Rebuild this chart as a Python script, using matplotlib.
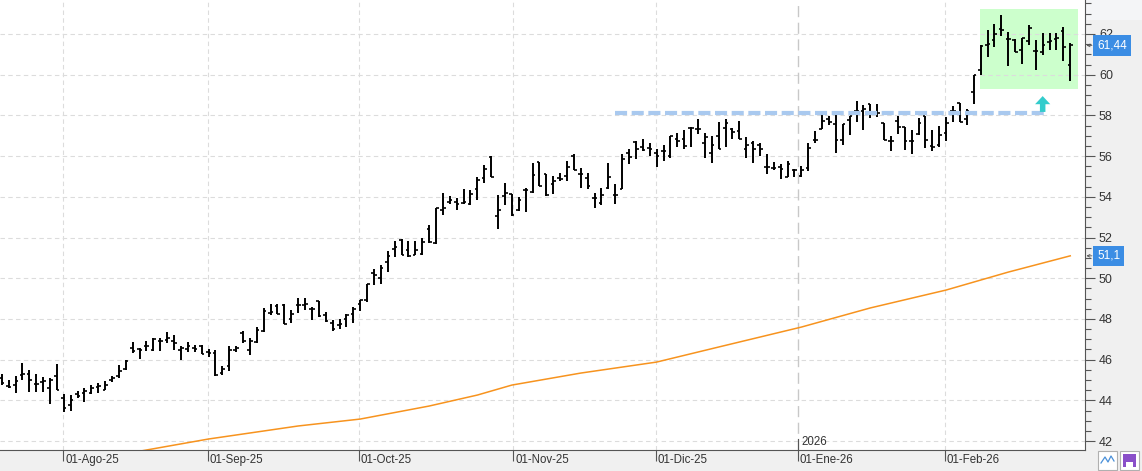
import numpy as np
import matplotlib
matplotlib.use('Agg')
import matplotlib.pyplot as plt
from matplotlib.patches import Rectangle, FancyArrow
from matplotlib.ticker import MultipleLocator

# daily bars (open, high, low, close)
opens = [45.08, 44.72, 44.77, 45.26, 45.30, 44.82, 44.92, 44.61, 45.18, 44.11,
         43.79, 44.30, 44.36, 44.36, 44.66, 44.52, 45.02, 45.18, 45.54, 46.57,
         46.52, 46.69, 46.49, 46.90, 46.95, 46.90, 46.49, 46.52, 46.57, 46.66,
         46.36, 46.33, 45.34, 45.67, 46.49, 47.31, 46.49, 46.85, 47.39, 48.30,
         48.64, 48.69, 48.02, 48.67, 48.67, 48.51, 48.89, 48.18, 47.80, 47.69,
         48.02, 48.26, 48.75, 48.92, 50.26, 50.03, 50.80, 51.46, 51.87, 51.38,
         51.13, 51.21, 52.44, 51.74, 53.34, 53.75, 53.75, 53.70, 53.64, 54.36,
         54.90, 55.97, 53.05, 54.03, 54.16, 53.34, 54.33, 54.25, 55.69, 55.10,
         54.61, 54.93, 55.02, 56.00, 55.10, 54.93, 53.95, 53.70, 54.44, 54.07,
         54.36, 56.16, 56.69, 56.46, 56.41, 56.16, 56.25, 56.00, 56.82, 56.82,
         57.39, 57.34, 56.66, 56.16, 56.98, 57.39, 57.31, 57.23, 56.33, 56.62,
         56.57, 55.48, 55.43, 55.48, 54.98, 55.34, 55.02, 55.41, 56.80, 57.34,
         57.82, 57.57, 56.80, 57.79, 58.20, 58.23, 58.56, 58.16, 57.62, 56.75,
         57.74, 57.43, 56.72, 57.08, 57.98, 56.48, 56.56, 57.13, 58.23, 58.61,
         57.84, 59.15, 60.25, 61.48, 61.72, 62.26, 61.75, 61.72, 61.23, 61.67,
         61.18, 61.11, 61.61, 61.77, 62.16, 60.49]
highs = [45.28, 45.02, 45.21, 45.84, 45.51, 45.30, 45.15, 45.08, 45.79, 44.31,
         44.26, 44.46, 44.61, 44.75, 44.85, 44.93, 45.21, 45.74, 46.00, 46.85,
         46.57, 46.90, 47.07, 47.07, 47.34, 47.23, 46.69, 46.87, 46.74, 46.72,
         46.54, 46.46, 45.70, 46.69, 46.66, 47.39, 47.07, 47.61, 48.54, 48.72,
         48.72, 48.72, 48.46, 49.05, 49.05, 48.59, 48.89, 48.34, 47.93, 48.02,
         48.23, 48.59, 48.95, 49.70, 50.43, 50.64, 51.33, 51.84, 51.92, 51.84,
         51.84, 52.00, 52.61, 53.43, 54.21, 54.03, 53.92, 54.36, 54.33, 54.95,
         55.56, 56.00, 54.08, 54.69, 54.16, 53.97, 54.41, 55.64, 55.72, 55.13,
         55.02, 55.18, 55.75, 56.08, 55.43, 55.18, 54.20, 54.44, 55.64, 54.61,
         56.08, 56.36, 56.74, 56.85, 56.62, 56.33, 56.57, 56.98, 57.15, 57.28,
         57.44, 57.84, 57.15, 56.98, 57.67, 57.84, 57.39, 57.72, 56.95, 56.74,
         56.62, 56.08, 55.70, 55.59, 55.75, 55.38, 55.51, 56.62, 57.25, 58.07,
         57.95, 58.03, 57.57, 57.95, 58.72, 58.52, 58.57, 58.57, 57.62, 56.97,
         57.98, 57.43, 57.30, 57.87, 57.98, 57.30, 57.46, 57.90, 58.44, 58.61,
         58.33, 60.00, 61.48, 62.21, 62.49, 62.95, 62.10, 61.77, 61.80, 62.46,
         61.72, 62.05, 62.05, 62.05, 62.33, 61.56]
lows = [44.75, 44.62, 44.36, 45.02, 44.41, 44.41, 44.41, 43.82, 44.51, 43.43,
        43.49, 44.10, 43.90, 44.31, 44.36, 44.49, 44.90, 45.10, 45.48, 46.33,
        46.05, 46.41, 46.41, 46.41, 46.82, 46.49, 46.00, 46.38, 46.36, 46.26,
        46.13, 45.18, 45.26, 45.43, 46.36, 46.82, 46.25, 46.82, 47.34, 48.18,
        48.23, 47.74, 47.80, 48.30, 48.46, 47.93, 48.10, 47.85, 47.41, 47.52,
        47.61, 47.80, 48.39, 48.84, 49.66, 49.70, 50.31, 51.02, 51.13, 51.05,
        51.13, 51.16, 51.74, 51.66, 53.10, 53.64, 53.34, 53.67, 53.59, 53.84,
        54.69, 54.95, 52.44, 53.59, 53.05, 53.31, 53.26, 54.20, 54.52, 54.03,
        54.16, 54.77, 54.77, 55.30, 54.41, 54.39, 53.46, 53.62, 54.36, 53.66,
        54.36, 55.59, 55.87, 56.25, 56.00, 55.48, 55.75, 55.92, 56.46, 56.33,
        56.46, 57.07, 55.92, 55.67, 56.36, 56.46, 56.82, 56.82, 55.92, 55.64,
        56.00, 55.10, 55.30, 54.89, 54.98, 54.98, 54.98, 55.25, 56.64, 57.34,
        57.51, 56.15, 56.56, 57.02, 57.70, 57.26, 57.87, 57.90, 56.77, 56.23,
        57.08, 56.28, 56.10, 57.05, 56.39, 56.23, 56.43, 56.72, 57.67, 57.70,
        57.51, 58.56, 60.00, 60.85, 61.34, 61.89, 60.41, 61.11, 60.52, 61.44,
        60.21, 60.98, 61.20, 61.23, 60.66, 59.70]
closes = [44.85, 44.66, 44.93, 45.31, 44.98, 44.79, 44.93, 45.02, 44.51, 43.62,
          44.00, 44.20, 44.44, 44.61, 44.69, 44.77, 45.10, 45.43, 45.92, 46.41,
          46.49, 46.69, 47.02, 46.90, 47.07, 46.82, 46.57, 46.66, 46.52, 46.30,
          46.33, 45.26, 45.54, 46.49, 46.57, 46.90, 46.90, 47.48, 48.38, 48.36,
          48.26, 47.77, 48.26, 48.70, 48.72, 48.51, 48.13, 47.90, 47.52, 47.77,
          48.18, 48.51, 48.92, 49.70, 50.15, 50.51, 51.08, 51.51, 51.13, 51.08,
          51.41, 51.79, 51.79, 53.43, 53.43, 53.84, 53.67, 53.75, 54.13, 54.85,
          55.39, 54.95, 53.34, 54.21, 53.10, 53.84, 54.33, 55.07, 54.52, 54.11,
          54.77, 54.89, 55.48, 55.34, 55.10, 54.52, 53.95, 54.07, 54.98, 54.07,
          55.87, 55.97, 56.33, 56.30, 56.33, 56.00, 56.25, 56.98, 56.74, 56.49,
          57.39, 57.34, 56.95, 56.57, 56.36, 57.64, 57.18, 56.82, 56.57, 56.36,
          56.33, 55.48, 55.43, 55.38, 55.59, 55.34, 55.34, 56.39, 56.80, 57.74,
          57.67, 56.80, 57.57, 57.95, 58.23, 58.31, 58.11, 58.11, 56.80, 56.72,
          57.41, 56.72, 56.72, 57.62, 56.80, 56.43, 57.05, 57.62, 58.20, 57.70,
          58.23, 59.97, 61.39, 61.51, 62.00, 62.21, 61.75, 61.11, 61.80, 62.30,
          61.15, 61.48, 61.64, 61.80, 61.34, 61.44]

# moving average, read at a few bars
ma_idx = [20, 30, 43, 52, 62, 69, 74, 84, 95, 104, 116, 126, 137, 146, 155]
ma_val = [41.50, 42.10, 42.74, 43.08, 43.72, 44.26, 44.75, 45.34, 45.88, 46.62,
          47.60, 48.54, 49.42, 50.30, 51.10]

month_pos = [8.9, 29.9, 51.8, 74.2, 94.9, 115.5, 136.8]
month_lbl = ['01-Ago-25', '01-Sep-25', '01-Oct-25', '01-Nov-25', '01-Dic-25',
             '01-Ene-26', '01-Feb-26']
year_pos = 115.5
year_lbl = '2026'

resist = 58.1
resist_from, resist_to = 89, 151.5
box_x = (141.9, 156.1)
box_y = (59.3, 63.23)
arrow_x, arrow_y0, arrow_y1 = 151, 58.17, 58.95

last_close = 61.44
last_ma = 51.1

W, H = 1142, 471
fig = plt.figure(figsize=(W/100, H/100), dpi=100)
fig.patch.set_facecolor('white')

def fx(px):
    return px/W
def fy(py):
    return 1 - py/H

# background strips
fig.add_artist(Rectangle((fx(1085), 0), 1 - fx(1085), 1, transform=fig.transFigure,
                         fc='#f4f5f7', ec='none', zorder=-2))
fig.add_artist(Rectangle((0, 0), 1, 1 - fy(451), transform=fig.transFigure,
                         fc='#f0f0f0', ec='none', zorder=-1))

ax = fig.add_axes([0, fy(450), fx(1085), 450/H])
ax.set_xlim(-0.25, 157.14)
ax.set_ylim(41.56, 63.67)

x = np.arange(len(closes))

# grid
for v in range(42, 64, 2):
    ax.axhline(v, color='#dcdcdc', lw=0.8, ls=(0, (4, 3)), zorder=1)
for p in month_pos:
    if p == year_pos:
        ax.axvline(p, color='#c8c8c8', lw=1.0, ls=(0, (8, 4)), zorder=1)
    else:
        ax.axvline(p, color='#dcdcdc', lw=0.8, ls=(0, (4, 3)), zorder=1)

ax.add_patch(Rectangle((box_x[0], box_y[0]), box_x[1]-box_x[0], box_y[1]-box_y[0],
                       fc='#ccffcc', ec='none', zorder=0.5))

ax.plot(ma_idx, ma_val, color='#f7931e', lw=1.1, zorder=2)

ax.vlines(x, lows, highs, color='black', lw=1.4, zorder=3)
ax.hlines(opens, x-0.38, x, color='black', lw=1.2, zorder=3)
ax.hlines(closes, x, x+0.38, color='black', lw=1.2, zorder=3)

ax.hlines(resist, resist_from, resist_to, color='#a9c9ef', lw=3.0,
          linestyles=(0, (2.9, 1.1)), zorder=4)

ax.add_patch(FancyArrow(arrow_x, arrow_y0, 0, arrow_y1-arrow_y0, width=0.8,
                        head_width=2.2, head_length=0.4, length_includes_head=True,
                        fc='#33cccc', ec='none', zorder=4))

# axes styling
for s in ['left', 'top']:
    ax.spines[s].set_visible(False)
ax.spines['right'].set_color('#555555')
ax.spines['bottom'].set_color('#555555')
ax.yaxis.tick_right()
ax.set_yticks(range(42, 64, 2))
ax.yaxis.set_minor_locator(MultipleLocator(0.5))
ax.tick_params(axis='y', which='major', length=7, width=0.8, color='#555555',
               labelsize=9, labelcolor='#333333', pad=3)
ax.tick_params(axis='y', which='minor', length=4, width=0.8, color='#555555')
for t in ax.get_yticklabels():
    t.set_fontfamily('Liberation Sans')

ax.set_xticks(month_pos)
ax.set_xticklabels([])
ax.tick_params(axis='x', length=8, width=0.8, color='#555555')
for p, l in zip(month_pos, month_lbl):
    ax.annotate(l, xy=(p, 0), xycoords=('data', 'axes fraction'), xytext=(2, -4),
                textcoords='offset pixels', ha='left', va='top', fontsize=8.3,
                color='#333333', family='Liberation Sans', annotation_clip=False)

# year marker
ax.plot([year_pos, year_pos], [0, 0.025], transform=ax.get_xaxis_transform(),
        color='#555555', lw=0.8, zorder=5, clip_on=False)
ax.annotate(year_lbl, xy=(year_pos, 0), xycoords=('data', 'axes fraction'),
            xytext=(3, 2), textcoords='offset pixels', ha='left', va='bottom',
            fontsize=8.3, color='#333333', family='Liberation Sans')

# value tags on the price axis
for val, txt in [(last_close, '61,44'), (last_ma, '51,1')]:
    ax.annotate(txt, xy=(1, val), xycoords=('axes fraction', 'data'), xytext=(12, 0),
                textcoords='offset pixels', ha='left', va='center', fontsize=8.5,
                color='white', family='Liberation Sans', annotation_clip=False,
                bbox=dict(boxstyle='square,pad=0.35', fc='#3b8de4', ec='none'))
    ax.annotate('', xy=(1, val), xycoords=('axes fraction', 'data'),
                xytext=(7, 0), textcoords='offset pixels', annotation_clip=False,
                arrowprops=dict(arrowstyle='->', lw=0.6, color='#555555',
                                shrinkA=0, shrinkB=1, mutation_scale=5))

# little buttons in the corner
fig.add_artist(Rectangle((fx(1098), fy(470)), fx(19), 19/H, transform=fig.transFigure,
                         fc='white', ec='#b0b0b0', lw=0.8))
fig.add_artist(plt.Line2D([fx(1101), fx(1105), fx(1108), fx(1111), fx(1114)],
                          [fy(463), fy(457), fy(462), fy(456), fy(461)],
                          transform=fig.transFigure, color='#4a90d9', lw=0.9))
fig.add_artist(Rectangle((fx(1120), fy(470)), fx(19), 19/H, transform=fig.transFigure,
                         fc='white', ec='#b0b0b0', lw=0.8))
fig.add_artist(Rectangle((fx(1123), fy(467)), fx(13), 13/H, transform=fig.transFigure,
                         fc='#8a4fc9', ec='none'))
fig.add_artist(Rectangle((fx(1126), fy(467)), fx(7), 5/H, transform=fig.transFigure,
                         fc='white', ec='none'))

plt.savefig('out.png', dpi=100)
plt.close()
